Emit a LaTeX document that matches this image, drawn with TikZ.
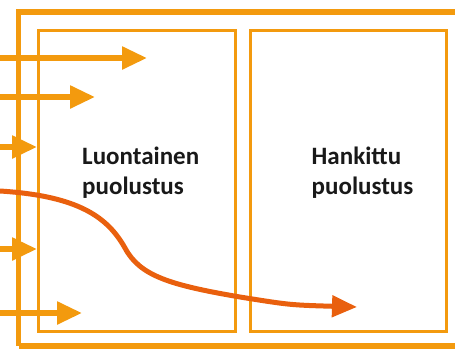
\documentclass[tikz,border=0pt]{standalone}
\usepackage{fontspec}
\setmainfont{Carlito}
\usetikzlibrary{arrows.meta}
\definecolor{lorange}{HTML}{F39A0E}
\definecolor{dorange}{HTML}{E9600E}
\tikzset{
  boxstyle/.style={draw=lorange, line width=3pt, rectangle, inner sep=0pt},
  labelstyle/.style={font=\fontsize{25}{30}\selectfont\bfseries, align=left, text=black!90, inner sep=0pt, anchor=west},
  harrow/.style={lorange, line width=5.5pt, -{Triangle[length=25pt,width=22pt]}},
  carrow/.style={dorange, line width=5pt, -{Triangle[length=25pt,width=21pt]}},
}
\begin{document}
\begin{tikzpicture}[x=1pt,y=-1pt]
\useasboundingbox (0,0) rectangle (455,349);
\begin{scope}
\clip (0,0) rectangle (455,349);
\draw[lorange, line width=5.5pt] (18.5,346) -- (18.5,12) -- (470,12);
\draw[lorange, line width=5.5pt] (18.5,346) -- (470,346);
\end{scope}
\node[boxstyle, minimum width=196.5pt, minimum height=301.5pt] (box1) at (136.75,180.75) {};
\node[boxstyle, minimum width=196.7pt, minimum height=301.5pt] (box2) at (348.35,180.75) {};
\node[labelstyle] (t1) at (82,172.5) {Luontainen\\puolustus};
\node[labelstyle] (t2) at (311.5,172.5) {Hankittu\\puolustus};
% arrows
\coordinate (s1) at (0,58);  \coordinate (e1) at (147,58);
\coordinate (s2) at (0,97);  \coordinate (e2) at (95,97);
\coordinate (s3) at (0,147); \coordinate (s4) at (0,249);
\coordinate (s5) at (0,313); \coordinate (e5) at (82,313);
\draw[harrow] (s1) -- (e1);
\draw[harrow] (s2) -- (e2);
\draw[harrow] (s3) -- (box1.west |- s3);
\draw[harrow] (s4) -- (box1.west |- s4);
\draw[harrow] (s5) -- (e5);
% curved arrow
\coordinate (c0) at (0,191);
\coordinate (c1) at (125,248);
\coordinate (c2) at (240,297);
\coordinate (c3) at (357,307);
\draw[carrow] (c0) .. controls (80,196) and (108,218) .. (c1)
  .. controls (140,276) and (170,285) .. (c2)
  .. controls (290,305) .. (c3);
\end{tikzpicture}
\end{document}
